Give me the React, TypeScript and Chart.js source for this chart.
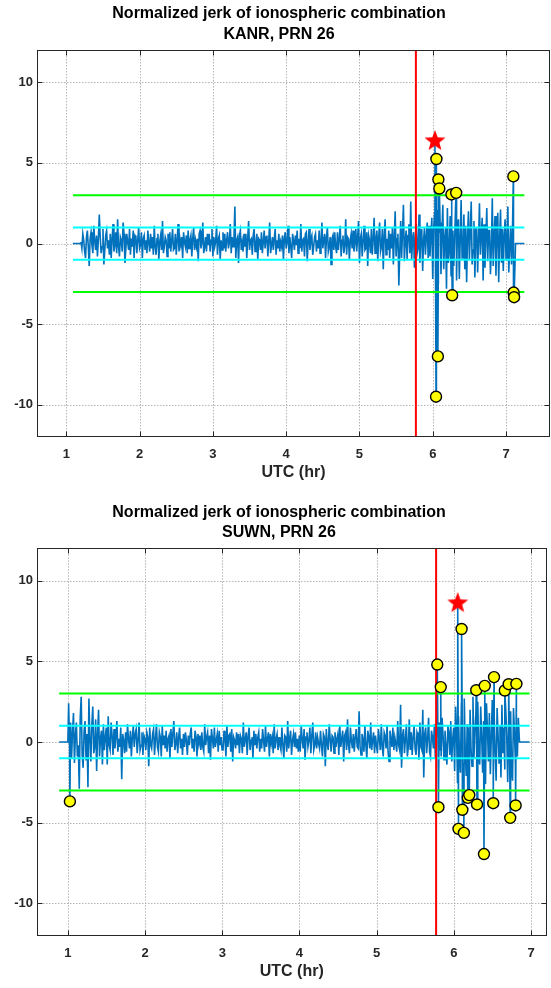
import React, { useEffect, useRef } from "react";
import { Chart, registerables } from "chart.js";

Chart.register(...registerables);

// ---------- shared labels / axes ----------
const TITLE = "Normalized jerk of ionospheric combination";
const X_LABEL = "UTC (hr)";
const xTickValues = [1, 2, 3, 4, 5, 6, 7];
const yTickValues = [-10, -5, 0, 5, 10];
const yMin = -12;
const yMax = 12;
const xMin = 0.6;
const outerThreshold = 3;
const innerThreshold = 1;
const eventTime = 5.77;

// ---------- KANR, PRN 26 ----------
const kanrStation = "KANR, PRN 26";
const kanrXMax = 7.6;
const kanrStart = 1.2;
const kanrStep = 0.0125;
const kanrJerk = [
  .1, -.3, .6, .2, -.5, -.9, .4, .8, -.2, -1.4, .3, .7, -.1, -.6, 1.1, .2, -.4, .5, -.8, .3,
  1.8, .4, -.6, -.2, .9, -1.3, -.4, .5, .8, -.3, .2, -.7, .6, -.9, .3, 1.2, -.5, -.1, .7, -.6,
  1.5, -.2, -.8, .4, .2, -.5, 1.3, .6, -1.2, -.3, .6, .1, -.4, .9, -.7, .3, -.2, .8, -.9, .5,
  .4, -.6, .2, 1.0, -.3, -.1, .7, -.9, .3, .5, -.4, .2, -.6, .8, .1, -.5, .6, -.3, .4, -.7,
  1.1, -.2, -.7, .3, .6, -1.0, .1, .5, -.4, 1.4, -.6, -.2, .4, .2, -.8, .6, -.3, .7, -.5, .2,
  .9, -.4, -.3, .6, -.7, .2, 1.2, -.5, .3, -.1, .4, -.9, .7, .1, -.2, .5, -.6, .8, -.3, .2,
  .5, -.8, .3, 1.0, -.4, .2, -.2, .3, -1.1, .6, .8, -.3, .1, 1.3, -.6, -.2, .4, -.5, .6, -.1,
  .6, -.5, .2, .9, -.8, .4, -.2, .1, 1.1, -.7, .3, .5, -1.0, .2, -.4, .7, -.3, .6, -.5, .2,
  .7, -.3, .1, 1.2, -.6, .4, -.2, .3, 2.3, -.9, .2, .4, -1.2, .5, .8, -.4, .1, -.5, .6, -.2,
  .6, -.9, .3, 1.4, -.4, .2, .3, -.7, .5, .9, -.5, -.1, .6, -1.0, .3, .2, -.4, .7, -.6, .1,
  .8, -.3, .4, .5, -.8, .2, 1.3, -.6, -.1, .4, -.4, .3, .9, -.7, .2, -.3, .6, -.5, .1, -.2,
  .5, -1.0, .3, .7, -.3, .1, 1.1, -.6, .4, -.2, -.9, .6, .2, -.4, .5, -.1, .8, -.6, .3, -.3,
  1.2, -.5, .2, .3, -.8, .6, .7, -1.1, .1, .9, -.4, .3, .5, -.7, -.2, .4, .6, -.5, .2, -.3,
  .8, -.6, .1, 1.3, -.3, .2, .6, -.9, .4, 1.0, -.5, -.2, .4, -1.3, .3, .5, -.4, .7, -.2, -.6,
  .7, -.4, .3, 1.1, -.8, .2, .5, -.6, -.1, 1.5, -.7, .4, .3, -1.0, .2, .6, -.3, .8, -.5, .1,
  .9, -.5, .4, 1.4, -1.2, .3, .6, -.8, .2, 1.1, -.4, -.3, .7, -1.4, .5, .2, -.6, .9, -.7, .3,
  1.6, -.6, .2, .8, -1.1, .4, 1.3, -.5, -.2, .9, -1.6, .5, 1.5, -.7, .3, -.4, .8, -.9, .6, -.3,
  1.0, -1.3, .4, 2.0, -.8, .3, .6, -2.6, -.5, 1.4, -.9, .7, 2.4, -1.1, .2, .8, -1.0, .5, 1.2, -.6,
  2.6, -1.0, .3, .7, -1.5, .4, 1.2, -.6, -.3, 1.8, -1.2, .5, .9, -1.7, .2, 1.0, -.7, .4, 1.3, -.9,
  1.1, -.8, .5, 1.6, -2.2, .9, 1.9, -1.5, -.4, 2.1, -2.5, .7, 1.3, -1.9, .6, 2.4, -1.6, .3, 1.0, -2.8,
  2.2, -1.2, -.5, 1.7, -2.0, .8, .8, -1.4, .4, 2.5, -2.3, 1.1, 1.5, -2.2, .3, 2.7, -.9, -.6, 1.8, -1.6,
  1.1, -2.4, .5, 2.0, -1.0, .7, 2.6, -1.3, -.4, 1.4, -2.1, .9, .9, -1.8, .2, 2.5, -.7, .6, 1.6, -2.3,
  1.2, -1.5, .4, 2.2, -1.1, .8, .8, -1.9, -.3, 2.8, -1.4, .5, 1.7, -2.0, .6, 1.9, -2.4, .3, 2.1, -1.2,
  .9, -1.7, .6, 1.5, -1.0, .4, 2.3, -1.8, -.2, 1.1, -1.3, .7, .6,
];
const kanrEdgeX = [1.09, 1.19, 7.13, 7.25];
const kanrEdgeY = [0, 0, 0, 0];
const kanrOutlierX = [6.045, 6.05, 6.07, 6.077, 6.09, 6.255, 6.265, 6.32, 7.1, 7.104, 7.11];
const kanrOutlierY = [-9.5, 5.24, -7.0, 3.97, 3.41, 3.04, -3.21, 3.14, 4.16, -3.04, -3.33];
const kanrPeakX = [6.03];
const kanrPeakY = [6.4];
const kanrLimitX = [1.09, 7.25];

// ---------- SUWN, PRN 26 ----------
const suwnStation = "SUWN, PRN 26";
const suwnXMax = 7.2;
const suwnStart = 1.01;
const suwnStep = 0.0125;
const suwnJerk = [
  2.4, -.4, 1.2, -1.0, .6, 1.8, -1.3, .4, 1.2, -.9, -.2, -2.9, 1.5, 2.8, -.8, -1.6, .7, 1.3, -1.1, .5,
  -2.8, 2.7, .3, -1.2, 1.0, 2.2, -.7, -.3, 1.4, -1.8, .5, 2.0, -.9, .2, .7, -1.4, 1.1, -.5, .3, .9,
  -1.4, 1.6, -.2, -.5, 1.2, .4, -.8, .8, -.4, .3, 1.3, -.6, .2, -.3, .9, -2.3, .5, .1, -.7, .6,
  -.6, 1.1, .2, -.4, .7, -.9, .3, 1.0, -.3, .5, .8, -.7, .1, 1.2, -.5, -.2, .6, -.8, .4, .2,
  -.5, .6, .3, -1.5, .9, -.2, -.4, .5, .8, -.8, .2, 1.1, -.3, -.6, .6, .3, -.9, 1.0, -.2, .4,
  -.4, .7, -.6, .2, .4, -1.0, .8, -.3, .5, 1.3, -.5, -.1, .6, -.7, .3, .9, -.4, .2, -.8, .5,
  -.3, .6, .1, -.8, .4, -.2, .5, .9, -.4, .2, -.6, .7, .3, -.9, .5, -.1, .4, -.5, .6, -.3,
  -.6, 1.1, -.2, .3, .6, -.7, .4, -1.1, .8, .2, -.4, .9, -.3, .1, .5, -.6, .7, -.2, .3, -.5,
  -.5, .7, .2, -.9, 1.0, -.3, .4, .5, -.6, .8, -1.2, .3, .1, -.4, .6, -.2, .5, -.7, .4, .2,
  -.7, 1.2, -.3, .2, .6, -.8, .4, .9, -.5, .1, .3, -1.0, .7, -.2, .5, -.4, .3, .6, -.6, .2,
  -.4, .8, .1, -.6, 1.0, -.3, .2, .6, -.9, .5, -.1, .3, -.7, 1.1, -.4, .2, .5, -.5, .3, -.2,
  -.5, .9, -.2, -1.0, .4, .3, -.6, 1.3, -.4, .2, .7, -.8, .1, .5, -.3, .6, -.4, .2, -.6, .4,
  -.6, 1.0, .2, -.4, .8, -1.1, .3, .6, -.3, .1, .9, -.7, .4, 1.2, -.5, -.2, .6, -.4, .3, -.1,
  -.4, .7, -.2, -.9, .5, .3, -1.5, .8, -.1, -.5, 1.1, .2, -.6, .4, .3, -.7, .6, -.3, .2, .5,
  -.8, 1.0, -.3, .2, .7, -1.2, .4, .6, -.5, 1.4, -.2, -.7, .9, .1, -.4, .5, -.6, .3, .8, -.3,
  -.4, 1.9, -.3, -.8, .5, .2, -.6, 1.0, -.2, -1.0, .7, .3, -.4, 1.2, -.5, .1, .6, -.7, .4, -.2,
  -.7, .8, .2, -.5, 1.1, -.3, -.9, .6, .4, -.4, 1.0, -.6, -1.2, .7, .2, -.3, .9, -.5, .3, -.1,
  -.6, 1.3, -.2, -.5, 2.3, -1.6, .4, .8, -.7, .2, 1.1, -.9, -.3, 1.4, -.5, .6, -.8, .3, 1.0, -.4,
  -.8, .6, .4, -1.1, 1.2, -.3, -.5, 2.0, -2.2, .5, .9, -.7, .2, 1.5, -.6, -.9, .7, .3, -.4, 1.1,
  -1.0, .8, .3, -1.6, 1.2, -.5, -.9, 1.5, .4, -1.1, .7, -.3, -1.4, 1.0, .6, -.8, 1.3, -1.2, .2, .9,
  -1.8, 2.2, .5, -2.5, 1.6, -.8, -1.9, 2.4, .3, -1.3, 2.7, -.6, -2.1, 1.1, .9, -2.6, 2.0, -.4, -1.5, 2.8,
  -1.0, .7, 1.7, -2.3, 2.5, -.9, -1.4, 2.2, .4, -1.9, 1.3, -.5, -2.6, 2.4, .8, -1.2, 1.8, -2.0, .3, 2.6,
  -1.1, 1.6, -.6, -2.4, 2.1, .5, -1.3, 1.0, -2.2, 2.3, -.7, .9, -1.7, 2.0, .4, -2.5, 1.4, -.8, 1.9, -1.6,
  -2.4, 2.1, .6, -1.3, 1.0, -.9, 1.5,
];
const suwnEdgeX = [0.887, 1.0, 6.85, 6.98];
const suwnEdgeY = [0, 0, 0, 0];
const suwnOutlierX = [1.026, 5.785, 5.8, 5.83, 6.06, 6.1, 6.11, 6.13, 6.18, 6.2, 6.29, 6.3, 6.39, 6.4, 6.51, 6.52, 6.66, 6.71, 6.73, 6.8, 6.81];
const suwnOutlierY = [-3.68, 4.8, -4.04, 3.4, -5.38, 7.0, -4.2, -5.63, -3.46, -3.29, 3.21, -3.87, -6.94, 3.48, -3.79, 4.02, 3.19, 3.58, -4.7, -3.93, 3.6];
const suwnPeakX = [6.05];
const suwnPeakY = [8.65];
const suwnLimitX = [0.887, 6.98];

// ---------- styling ----------
const FONT = '"Liberation Sans", Arial, Helvetica, sans-serif';
const AXIS_COLOR = "#262626";
const LINE_BLUE = "#0072BD";

type Panel = {
  station: string;
  xMax: number;
  start: number;
  step: number;
  jerk: number[];
  edgeX: number[];
  edgeY: number[];
  outX: number[];
  outY: number[];
  peakX: number[];
  peakY: number[];
  limitX: number[];
};

const panels: Panel[] = [
  {
    station: kanrStation, xMax: kanrXMax, start: kanrStart, step: kanrStep, jerk: kanrJerk,
    edgeX: kanrEdgeX, edgeY: kanrEdgeY, outX: kanrOutlierX, outY: kanrOutlierY,
    peakX: kanrPeakX, peakY: kanrPeakY, limitX: kanrLimitX,
  },
  {
    station: suwnStation, xMax: suwnXMax, start: suwnStart, step: suwnStep, jerk: suwnJerk,
    edgeX: suwnEdgeX, edgeY: suwnEdgeY, outX: suwnOutlierX, outY: suwnOutlierY,
    peakX: suwnPeakX, peakY: suwnPeakY, limitX: suwnLimitX,
  },
];

function makeStar(r: number): HTMLCanvasElement {
  const c = document.createElement("canvas");
  const s = Math.ceil(r * 2 + 2);
  c.width = s;
  c.height = s;
  const g = c.getContext("2d")!;
  const cx = s / 2;
  const cy = s / 2 + 0.8;
  const inner = r * 0.42;
  g.beginPath();
  for (let i = 0; i < 10; i++) {
    const rad = i % 2 === 0 ? r : inner;
    const a = -Math.PI / 2 + (i * Math.PI) / 5;
    const px = cx + rad * Math.cos(a);
    const py = cy + rad * Math.sin(a);
    if (i === 0) g.moveTo(px, py);
    else g.lineTo(px, py);
  }
  g.closePath();
  g.fillStyle = "#FF0000";
  g.fill();
  return c;
}

function framePlugin(station: string) {
  return {
    id: "matlabFrame",
    beforeDatasetsDraw(chart: any) {
      const { ctx, chartArea: a, scales } = chart;
      const x = scales.x;
      const y = scales.y;
      ctx.save();
      ctx.strokeStyle = "#b5b5b5";
      ctx.lineWidth = 1;
      ctx.setLineDash([1.5, 1.5]);
      x.ticks.forEach((t: any) => {
        const px = Math.round(x.getPixelForValue(t.value)) + 0.5;
        ctx.beginPath();
        ctx.moveTo(px, a.top);
        ctx.lineTo(px, a.bottom);
        ctx.stroke();
      });
      y.ticks.forEach((t: any) => {
        const py = Math.round(y.getPixelForValue(t.value)) + 0.5;
        ctx.beginPath();
        ctx.moveTo(a.left, py);
        ctx.lineTo(a.right, py);
        ctx.stroke();
      });
      ctx.restore();
    },
    afterDraw(chart: any) {
      const { ctx, chartArea: a, scales } = chart;
      const x = scales.x;
      const y = scales.y;
      const L = Math.round(a.left) + 0.5;
      const R = Math.round(a.right) - 0.5;
      const T = Math.round(a.top) + 0.5;
      const B = Math.round(a.bottom) - 0.5;
      const tick = 5;
      ctx.save();
      ctx.strokeStyle = AXIS_COLOR;
      ctx.lineWidth = 1;
      ctx.setLineDash([]);
      ctx.strokeRect(L, T, R - L, B - T);
      ctx.beginPath();
      x.ticks.forEach((t: any) => {
        const px = Math.round(x.getPixelForValue(t.value)) + 0.5;
        ctx.moveTo(px, B);
        ctx.lineTo(px, B - tick);
        ctx.moveTo(px, T);
        ctx.lineTo(px, T + tick);
      });
      y.ticks.forEach((t: any) => {
        const py = Math.round(y.getPixelForValue(t.value)) + 0.5;
        ctx.moveTo(L, py);
        ctx.lineTo(L + tick, py);
        ctx.moveTo(R, py);
        ctx.lineTo(R - tick, py);
      });
      ctx.stroke();

      ctx.fillStyle = "#000";
      ctx.textAlign = "center";
      ctx.textBaseline = "middle";
      ctx.font = `bold 16px ${FONT}`;
      ctx.fillText(TITLE, 279, a.top - 36);
      ctx.fillText(station, 279, a.top - 15.5);
      ctx.fillStyle = AXIS_COLOR;
      ctx.fillText(X_LABEL, (a.left + a.right) / 2, a.bottom + 36);
      ctx.restore();
    },
  };
}

function JerkPanel({ panel, top, height, padRight, plotTop, plotBottom }: {
  panel: Panel; top: number; height: number; padRight: number; plotTop: number; plotBottom: number;
}) {
  const ref = useRef<HTMLCanvasElement | null>(null);
  useEffect(() => {
    const p = panel;
    const pts: { x: number; y: number }[] = [];
    p.jerk.forEach((v, i) => pts.push({ x: p.start + i * p.step, y: v }));
    p.edgeX.forEach((v, i) => pts.push({ x: v, y: p.edgeY[i] }));
    p.outX.forEach((v, i) => pts.push({ x: v, y: p.outY[i] }));
    p.peakX.forEach((v, i) => pts.push({ x: v, y: p.peakY[i] }));
    pts.sort((a, b) => a.x - b.x);

    const hLine = (val: number, color: string, order: number) => ({
      data: p.limitX.map((xv) => ({ x: xv, y: val })),
      showLine: true,
      borderColor: color,
      borderWidth: 2,
      pointRadius: 0,
      order,
    });

    const star = makeStar(11);
    const tickFont = { family: FONT, size: 13, weight: "bold" as const };

    const chart = new Chart(ref.current!, {
      type: "scatter",
      data: {
        datasets: [
          {
            data: pts,
            showLine: true,
            borderColor: LINE_BLUE,
            borderWidth: 1.6,
            pointRadius: 0,
            order: 10,
          } as any,
          hLine(outerThreshold, "#00FF00", 8),
          hLine(-outerThreshold, "#00FF00", 8),
          hLine(innerThreshold, "#00FFFF", 8),
          hLine(-innerThreshold, "#00FFFF", 8),
          {
            data: [{ x: eventTime, y: yMin }, { x: eventTime, y: yMax }],
            showLine: true,
            borderColor: "#FF0000",
            borderWidth: 2,
            pointRadius: 0,
            order: 6,
          },
          {
            data: p.outX.map((v, i) => ({ x: v, y: p.outY[i] })),
            showLine: false,
            pointRadius: 5.5,
            pointBackgroundColor: "#FFFF00",
            pointBorderColor: "#000000",
            pointBorderWidth: 1.4,
            order: 4,
          },
          {
            data: p.peakX.map((v, i) => ({ x: v, y: p.peakY[i] })),
            showLine: false,
            pointStyle: star as any,
            pointRadius: 11,
            order: 2,
          },
        ],
      },
      options: {
        animation: false,
        responsive: false,
        events: [],
        layout: { autoPadding: false, padding: { top: plotTop, left: 0, right: padRight, bottom: 0 } },
        plugins: { legend: { display: false }, tooltip: { enabled: false }, title: { display: false } },
        scales: {
          x: {
            type: "linear",
            min: xMin,
            max: p.xMax,
            grid: { display: false, drawTicks: false },
            border: { display: false },
            afterBuildTicks: (s: any) => { s.ticks = xTickValues.map((v) => ({ value: v })); },
            afterFit: (s: any) => { s.height = height - plotBottom; s.paddingLeft = 0; s.paddingRight = 0; },
            ticks: { color: AXIS_COLOR, font: tickFont, padding: 10, autoSkip: false, maxRotation: 0 },
          },
          y: {
            type: "linear",
            min: yMin,
            max: yMax,
            grid: { display: false, drawTicks: false },
            border: { display: false },
            afterBuildTicks: (s: any) => { s.ticks = yTickValues.map((v) => ({ value: v })); },
            afterFit: (s: any) => { s.width = 37; s.paddingTop = 0; s.paddingBottom = 0; },
            ticks: { color: AXIS_COLOR, font: tickFont, padding: 4, autoSkip: false },
          },
        },
      },
      plugins: [framePlugin(p.station)],
    } as any);
    return () => chart.destroy();
  }, []);
  return (
    <canvas
      ref={ref}
      width={551}
      height={height}
      style={{ position: "absolute", left: 0, top, display: "block", width: 551, height }}
    />
  );
}

export default function App() {
  return (
    <div style={{ position: "absolute", left: 0, top: 0, width: 551, height: 988, background: "#fff" }}>
      <JerkPanel panel={panels[0]} top={0} height={498} padRight={1} plotTop={50} plotBottom={437} />
      <JerkPanel panel={panels[1]} top={498} height={490} padRight={4.5} plotTop={50.3} plotBottom={437.7} />
    </div>
  );
}
